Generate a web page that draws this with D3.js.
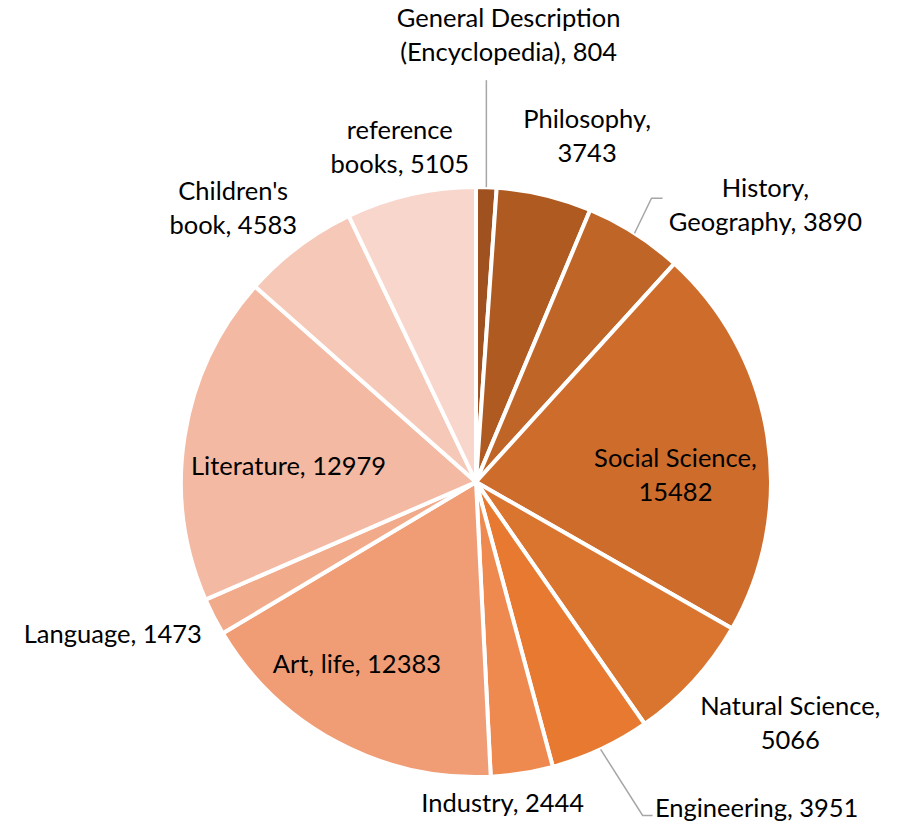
<!DOCTYPE html>
<html>
<head>
<meta charset="utf-8">
<script src="https://cdn.jsdelivr.net/npm/d3@7"></script>
<style>
  body { margin: 0; background: #fff; }
  svg text { font-family: Lato, "Open Sans", sans-serif; font-size: 25.5px; fill: #000; }
</style>
</head>
<body>
<div class="chart"></div>
<script>
// data
const categories = ['General Description (Encyclopedia)', 'Philosophy', 'History, Geography', 'Social Science',
  'Natural Science', 'Engineering', 'Industry', 'Art, life', 'Language', 'Literature', "Children's book", 'reference books'];
const values = [804, 3743, 3890, 15482, 5066, 3951, 2444, 12383, 1473, 12979, 4583, 5105];
const labelLines = [
  ['General Description', '(Encyclopedia), 804'],
  ['Philosophy,', '3743'],
  ['History,', 'Geography, 3890'],
  ['Social Science,', '15482'],
  ['Natural Science,', '5066'],
  ['Engineering, 3951'],
  ['Industry, 2444'],
  ['Art, life, 12383'],
  ['Language, 1473'],
  ['Literature, 12979'],
  ["Children's", 'book, 4583'],
  ['reference', 'books, 5105']
];
const colors = ['#9f5120', '#ae5a21', '#c06528', '#ce6c2c', '#da7530', '#e77a30',
  '#ee8a50', '#f09c75', '#f1aa8a', '#f3b9a3', '#f6c8b8', '#f8d6cc'];

let width = 900,
    height = 825,
    cx = 476,
    cy = 482,
    radius = 295;

// label layout: radius from centre along slice mid angle, then a nudge
const labelLayout = [
  { r: 445, dx: 17, dy: -2 },
  { r: 350, dx: 30, dy: -5 },
  { r: 360, dx: 96, dy: 27 },
  { r: 206, dx: -4, dy: 25 },
  { r: 350, dx: 56, dy: 5 },
  { r: 340, dx: 137, dy: 18 },
  { r: 325, dx: -24, dy: 0 },
  { r: 206, dx: -22, dy: 0 },
  { r: 370, dx: -34, dy: -17 },
  { r: 206, dx: 16, dy: 16 },
  { r: 350, dx: -32, dy: 5 },
  { r: 340, dx: -1, dy: -3 }
];

let pieData = categories.map((c, i) => ({ name: c, value: values[i], idx: i }));

let pie = d3.pie()
  .sort(null)
  .value((d) => d.value);

let arcs = pie(pieData);

let arc = d3.arc()
  .innerRadius(0)
  .outerRadius(radius);

let svg = d3.select('.chart')
  .append('svg')
  .attr('width', width)
  .attr('height', height);

let g = svg.append('g')
  .attr('transform', 'translate(' + cx + ',' + cy + ')');

g.selectAll('path.slice')
  .data(arcs)
  .enter()
  .append('path')
  .attr('class', 'slice')
  .attr('d', arc)
  .attr('fill', (d) => colors[d.data.idx])
  .attr('stroke', '#fff')
  .attr('stroke-width', 4)
  .attr('stroke-linejoin', 'round');

function polar(angle, r) {
  return [Math.sin(angle) * r, -Math.cos(angle) * r];
}

// leader lines (General, History, Engineering)
function edgePoint(i, frac) {
  let a = arcs[i].startAngle + (arcs[i].endAngle - arcs[i].startAngle) * frac;
  return polar(a, radius);
}

let leader = d3.line();
let p0 = edgePoint(0, 0.5);
let p2 = edgePoint(2, 0.5);
let p5 = edgePoint(5, 0.5);

let leaders = [
  [[p0[0], p0[1]], [p0[0], p0[1] - 107]],
  [[p2[0], p2[1]], [p2[0] + 17, p2[1] - 35], [p2[0] + 28, p2[1] - 35]],
  [[p5[0], p5[1]], [p5[0] + 42, p5[1] + 66], [p5[0] + 52, p5[1] + 66]]
];

g.selectAll('path.leader')
  .data(leaders)
  .enter()
  .append('path')
  .attr('class', 'leader')
  .attr('d', leader)
  .attr('fill', 'none')
  .attr('stroke', '#a6a6a6')
  .attr('stroke-width', 1.5);

let lineH = 34;

let labels = g.selectAll('text.label')
  .data(arcs)
  .enter()
  .append('text')
  .attr('class', 'label')
  .attr('text-anchor', 'middle')
  .attr('transform', (d) => {
    let lay = labelLayout[d.data.idx];
    let mid = (d.startAngle + d.endAngle) / 2;
    let p = polar(mid, lay.r);
    return 'translate(' + (p[0] + lay.dx) + ',' + (p[1] + lay.dy) + ')';
  });

labels.each(function(d) {
  let lines = labelLines[d.data.idx];
  let t = d3.select(this);
  let offset = -(lines.length - 1) * lineH / 2;
  lines.forEach((ln, k) => {
    t.append('tspan')
      .attr('x', 0)
      .attr('y', offset + k * lineH)
      .attr('dy', '0.35em')
      .text(ln);
  });
});
</script>
</body>
</html>
